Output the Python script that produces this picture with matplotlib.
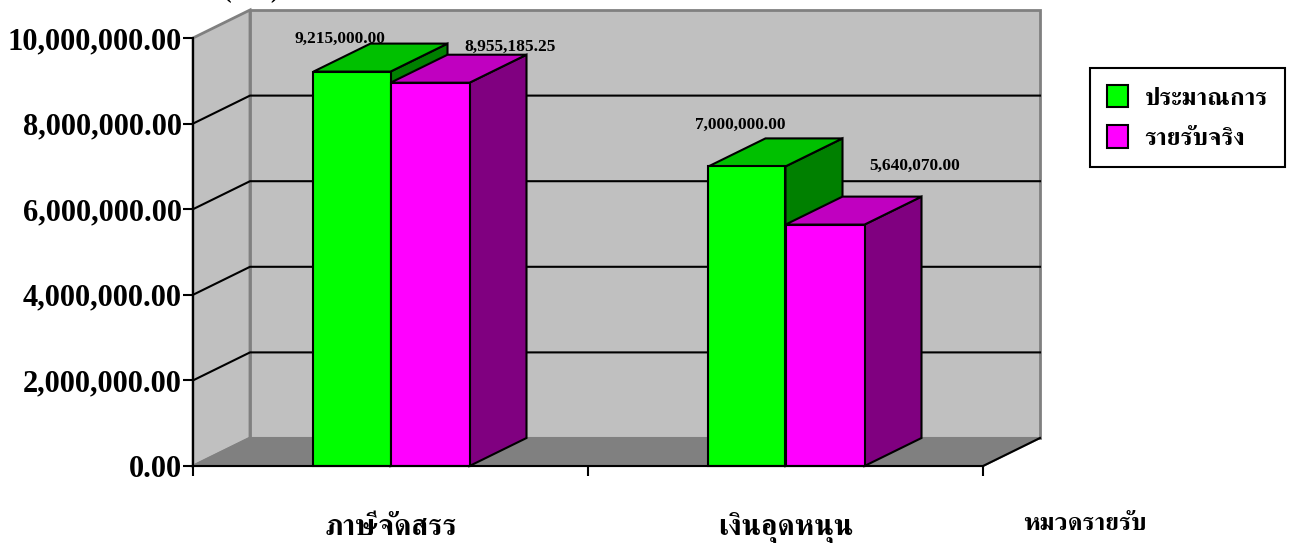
import matplotlib
matplotlib.use("Agg")
import matplotlib.pyplot as plt
from matplotlib.patches import Patch, Polygon
import logging

logging.getLogger("matplotlib.font_manager").setLevel(logging.ERROR)

categories = ["ภาษีจัดสรร", "เงินอุดหนุน"]
series_names = ["ประมาณการ", "รายรับจริง"]
estimate_values = [9215000.00, 7000000.00]
actual_values = [8955185.25, 5640070.00]
y_ticks = [0, 2000000, 4000000, 6000000, 8000000, 10000000]
y_title = "(บาท)"
x_title = "หมวดรายรับ"

FONT = ["Liberation Serif", "FreeSerif", "Loma", "DejaVu Sans"]
W, H = 1292, 543
LEFT, RIGHT, BOTTOM, TOP = 193, 983, 466, 38
GREEN_W = 0.195
MAGENTA_W = 0.2
# 3d depth of the chart, in pixels on screen
DEPTH_PX = (57, 28)


def main():
    plt.rcParams["font.family"] = FONT
    fig = plt.figure(figsize=(W / 100, H / 100), dpi=100)
    ax = fig.add_axes([LEFT / W, 1 - BOTTOM / H, (RIGHT - LEFT) / W, (BOTTOM - TOP) / H])
    ax.patch.set_visible(False)
    ax.set_xlim(-0.5, 1.5)
    ax.set_ylim(0, 10000000)

    dx = DEPTH_PX[0] * 2.0 / (RIGHT - LEFT)
    dy = DEPTH_PX[1] * 10000000.0 / (BOTTOM - TOP)
    x0, x1 = ax.get_xlim()
    ymax = ax.get_ylim()[1]

    def poly(points, face, edge, lw, z):
        ax.add_patch(Polygon(points, closed=True, facecolor=face, edgecolor=edge,
                             linewidth=lw, joinstyle="miter", clip_on=False, zorder=z))

    # walls and floor
    poly([(x0, 0), (x0 + dx, dy), (x0 + dx, ymax + dy), (x0, ymax)], "#c0c0c0", "#808080", 2, 1)
    poly([(x0 + dx, dy), (x1 + dx, dy), (x1 + dx, ymax + dy), (x0 + dx, ymax + dy)],
         "#c0c0c0", "#808080", 2, 1)
    poly([(x0, 0), (x1, 0), (x1 + dx, dy), (x0 + dx, dy)], "#808080", "#808080", 1.5, 1)
    ax.plot([x1, x1 + dx], [0, dy], color="black", lw=1.5, clip_on=False, zorder=2)

    # gridlines run across both walls
    for v in y_ticks[1:-1]:
        ax.plot([x0, x0 + dx, x1 + dx], [v, v + dy, v + dy], color="black", lw=1.5,
                clip_on=False, zorder=2)

    groups = [(estimate_values, -GREEN_W, GREEN_W, "#00ff00", "#00c000", "#008000"),
              (actual_values, 0, MAGENTA_W, "#ff00ff", "#c000c0", "#800080")]
    z = 3
    for i in range(len(categories)):
        for values, shift, bar_w, front, top, side in groups:
            a = i + shift
            b = a + bar_w
            v = values[i]
            poly([(b, 0), (b + dx, dy), (b + dx, v + dy), (b, v)], side, "black", 1.5, z)
            poly([(a, v), (b, v), (b + dx, v + dy), (a + dx, v + dy)], top, "black", 1.5, z)
            ax.bar(a, v, width=bar_w, align="edge", color=front, edgecolor="black",
                   linewidth=1.5, clip_on=False, zorder=z + 0.5)
            z += 1

    # value labels, placed by hand in the original chart
    label_offsets = [(-12, 33), (80, 36), (-7, 42), (90, 59)]
    label_values = [estimate_values[0], actual_values[0], estimate_values[1], actual_values[1]]
    label_x = [-GREEN_W / 2, MAGENTA_W / 2, 1 - GREEN_W / 2, 1 + MAGENTA_W / 2]
    for x, v, off in zip(label_x, label_values, label_offsets):
        ax.annotate("{:,.2f}".format(v), (x, v), xytext=(off[0] * 0.72, off[1] * 0.72),
                    textcoords="offset points", ha="center", va="center",
                    fontsize=12.5, fontweight="bold", zorder=30, annotation_clip=False)

    ax.set_yticks(y_ticks)
    ax.set_yticklabels(["{:,.2f}".format(v) for v in y_ticks], fontsize=22, fontweight="bold")
    ax.set_xticks([-0.5, 0.5, 1.5])
    ax.set_xticklabels([])
    ax.set_xticks([0, 1], minor=True)
    ax.set_xticklabels(categories, minor=True, fontsize=21, fontweight="bold", va="baseline")
    ax.tick_params(axis="y", length=7, width=1.5, pad=1)
    ax.tick_params(axis="x", which="major", length=7, width=1.5)
    ax.tick_params(axis="x", which="minor", length=0, pad=49.7)

    for name in ["top", "right"]:
        ax.spines[name].set_visible(False)
    for name in ["left", "bottom"]:
        ax.spines[name].set_linewidth(1.5)
        ax.spines[name].set_zorder(25)

    fig.text(1085 / W, 1 - 530 / H, x_title, fontsize=18, fontweight="bold",
             ha="center", va="baseline")
    # the top of this title falls outside the picture in the original too
    fig.text(251 / W, 1 - (-2) / H, y_title, fontsize=16.5, fontweight="bold",
             ha="center", va="baseline")

    handles = [Patch(facecolor="#00ff00", edgecolor="black", linewidth=1.5),
               Patch(facecolor="#ff00ff", edgecolor="black", linewidth=1.5)]
    leg = fig.legend(handles, series_names, loc="upper left",
                     bbox_to_anchor=(1090 / W, 1 - 68 / H), borderaxespad=0, fancybox=False,
                     framealpha=1, edgecolor="black", handlelength=0.85, handleheight=1.0,
                     handletextpad=0.65, labelspacing=0.62, borderpad=0.68,
                     prop={"weight": "bold", "size": 18, "family": FONT})
    leg.get_frame().set_linewidth(1.5)

    fig.savefig("out.png", dpi=100)


if __name__ == "__main__":
    main()
